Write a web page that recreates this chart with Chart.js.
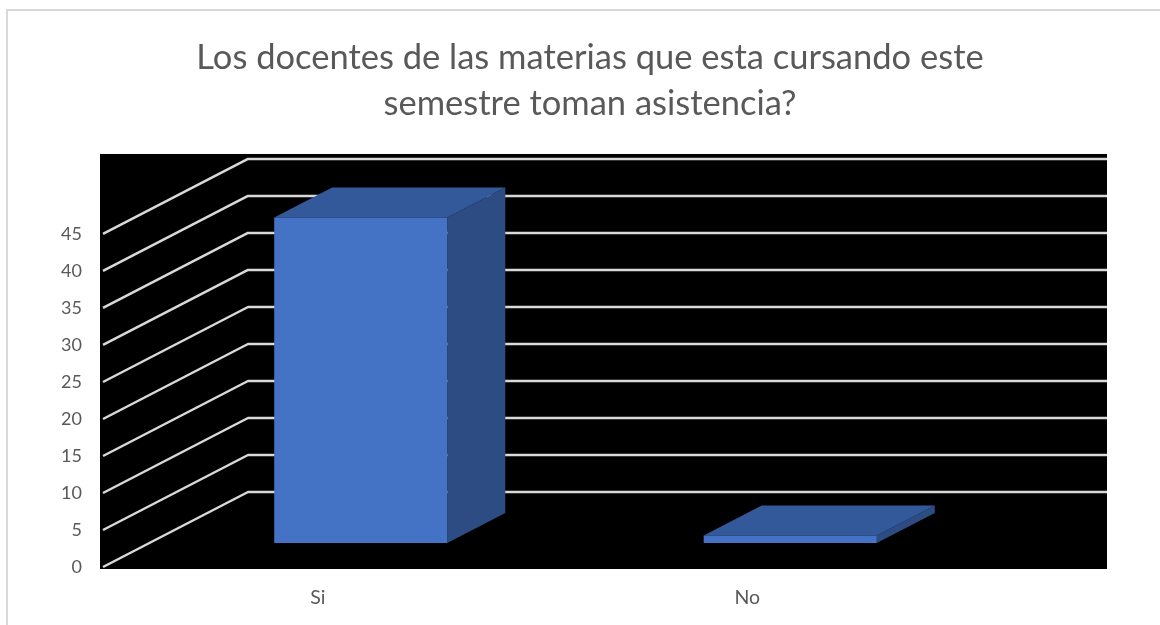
<!DOCTYPE html>
<html>
<head>
<meta charset="utf-8">
<script src="https://cdn.jsdelivr.net/npm/chart.js@4.4.1/dist/chart.umd.min.js"></script>
<style>
  html, body { margin: 0; padding: 0; background: #fff; overflow: hidden; }
  #frame { position: absolute; left: 6px; top: 9px; width: 1300px; height: 800px;
           border-left: 2px solid #d9d9d9; border-top: 2px solid #d9d9d9; }
  #wrap { position: absolute; left: 0; top: 0; width: 1180px; height: 625px; }
</style>
</head>
<body>
<div id="frame"></div>
<div id="wrap"><canvas id="chart"></canvas></div>
<script>
var titulo = ['Los docentes de las materias que esta cursando este', 'semestre toman asistencia?'];
var categorias = ['Si', 'No'];
var respuestas = [44, 1];
var yTicks = [0, 5, 10, 15, 20, 25, 30, 35, 40, 45];

// fake 3d: back wall offset, where the bars stand, and how deep they are
var depth = { x: 145, y: 75 };
var barShift = { x: 43, y: 24 };
var barDepth = { x: 58, y: 30 };

function poly(ctx, pts) {
  ctx.beginPath();
  ctx.moveTo(pts[0][0], pts[0][1]);
  for (var i = 1; i < pts.length; i++) ctx.lineTo(pts[i][0], pts[i][1]);
  ctx.closePath();
  ctx.fill();
}

var box3d = {
  id: 'box3d',
  afterLayout: function (chart) {
    // center the title on the whole canvas, not just the plot
    var tb = chart.titleBlock;
    if (tb) { tb.left = 0; tb.right = chart.width; tb.width = chart.width; }
  },
  beforeDraw: function (chart) {
    var ctx = chart.ctx, a = chart.chartArea, ys = chart.scales.y;
    var top = ys.getPixelForValue(ys.max) - depth.y - 5;
    ctx.save();
    ctx.fillStyle = '#000';
    ctx.fillRect(a.left - 3, top, a.right + depth.x - a.left + 3, a.bottom + 2 - top);
    ctx.restore();
  },
  beforeDatasetsDraw: function (chart) {
    var ctx = chart.ctx, a = chart.chartArea, ys = chart.scales.y;
    ctx.save();
    ctx.strokeStyle = '#d9d9d9';
    ctx.lineWidth = 2.5;
    ctx.lineJoin = 'round';
    ys.ticks.forEach(function (t) {
      var py = ys.getPixelForValue(t.value);
      ctx.beginPath();
      ctx.moveTo(a.left, py);
      ctx.lineTo(a.left + depth.x, py - depth.y);
      ctx.lineTo(a.right + depth.x, py - depth.y);
      ctx.stroke();
    });
    // top and side faces of each bar
    chart.getDatasetMeta(0).data.forEach(function (bar) {
      var l = bar.x - bar.width / 2 + barShift.x, r = bar.x + bar.width / 2 + barShift.x;
      var t = bar.y - barShift.y, b = bar.base - barShift.y;
      ctx.fillStyle = '#2c4c83';
      poly(ctx, [[r, t], [r + barDepth.x, t - barDepth.y], [r + barDepth.x, b - barDepth.y], [r, b]]);
      ctx.fillStyle = '#34599b';
      poly(ctx, [[l, t], [l + barDepth.x, t - barDepth.y], [r + barDepth.x, t - barDepth.y], [r, t]]);
    });
    ctx.restore();
    // front faces drawn by chart.js, pushed back into the box
    ctx.save();
    ctx.translate(barShift.x, -barShift.y);
  },
  afterDatasetsDraw: function (chart) {
    chart.ctx.restore();
  }
};

new Chart(document.getElementById('chart'), {
  type: 'bar',
  data: {
    labels: categorias,
    datasets: [{
      data: respuestas,
      backgroundColor: '#4472c4',
      borderWidth: 0,
      barPercentage: 0.403,
      categoryPercentage: 1,
      clip: false
    }]
  },
  options: {
    responsive: true,
    maintainAspectRatio: false,
    animation: false,
    layout: { padding: { left: 43, right: 218, top: 0, bottom: 13 } },
    plugins: {
      legend: { display: false },
      tooltip: { enabled: false },
      title: {
        display: true,
        text: titulo,
        color: '#595959',
        font: { family: 'Lato', size: 34.5, weight: 'normal', lineHeight: 1.333 },
        padding: { top: 35, bottom: 107 }
      }
    },
    scales: {
      x: {
        grid: { display: false, drawTicks: false },
        border: { display: false },
        ticks: { color: '#595959', font: { family: 'Lato', size: 19.5 }, padding: 19 },
        afterFit: function (s) { s.height = 45; }
      },
      y: {
        min: 0,
        max: yTicks[yTicks.length - 1],
        grid: { display: false, drawTicks: false },
        border: { display: false },
        ticks: { color: '#595959', font: { family: 'Lato', size: 18 }, padding: 21 },
        afterBuildTicks: function (s) { s.ticks = yTicks.map(function (v) { return { value: v }; }); },
        afterFit: function (s) { s.width = 60; }
      }
    }
  },
  plugins: [box3d]
});
</script>
</body>
</html>
